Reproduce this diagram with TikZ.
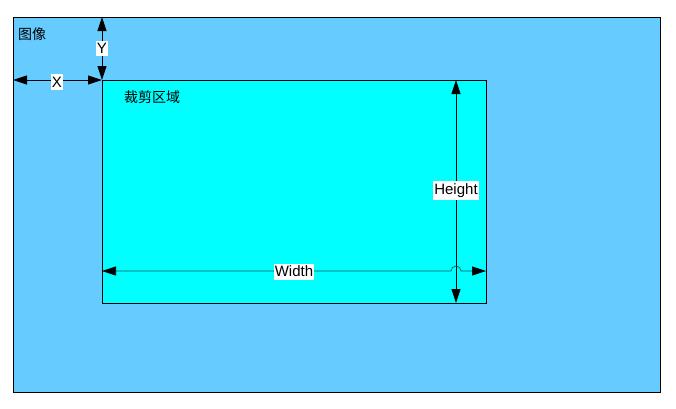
\documentclass[tikz,border=0pt]{standalone}
\usepackage{fontspec}
\setmainfont{Liberation Sans}
\newfontfamily\cjk{Noto Sans CJK SC}
\usetikzlibrary{arrows.meta}
\definecolor{outerblue}{RGB}{102,204,255}
\definecolor{innercyan}{RGB}{0,255,255}
\definecolor{dimteal}{RGB}{0,90,90}
\tikzset{
  dimarrow/.style={line width=0.8pt, {Triangle[length=14pt,width=9pt,color=black]}-{Triangle[length=14pt,width=9pt,color=black]}},
  dimlabel/.style={fill=white, inner xsep=1pt, inner ysep=2.5pt, font=\fontsize{15}{15}\selectfont},
  cjklabel/.style={anchor=west, inner sep=0pt, font=\cjk\fontsize{14}{14}\selectfont},
}
\begin{document}
\begin{tikzpicture}[x=1pt,y=-1pt]
\useasboundingbox (0,0) rectangle (676,408);
\draw[fill=outerblue, line width=0.8pt] (13,17) rectangle (660,392);
\coordinate (otl) at (13,17);
\draw[fill=innercyan, line width=0.8pt] (102,80) rectangle (486,303);
\coordinate (itl) at (102,80);
\coordinate (ibl) at (102,303);
\coordinate (itr) at (456,80);
\coordinate (ibr) at (456,303);
\coordinate (ytop) at (102,17);
\coordinate (xleft) at (13,80);
\coordinate (wl) at (102,271);
\coordinate (wr) at (486,271);
\node[cjklabel] (img) at (18,34) {图像};
\node[cjklabel] (crop) at (124,97) {裁剪区域};
% Y
\draw[dimarrow] (ytop) -- (itl);
\node[dimlabel] (ylab) at (102,48.5) {Y};
% X
\draw[dimarrow] (xleft) -- (itl);
\node[dimlabel] (xlab) at (57,82) {X};
% Height
\draw[dimarrow] (itr) -- (ibr);
\node[dimlabel] (hlab) at (456,190.5) {Height};
% Width with hop
\draw[dimarrow, draw=dimteal, line width=0.7pt] (wl) -- (451,271) arc[start angle=180, end angle=360, radius=5] -- (wr);
\node[dimlabel] (wlab) at (294,271.5) {Width};
\end{tikzpicture}
\end{document}
